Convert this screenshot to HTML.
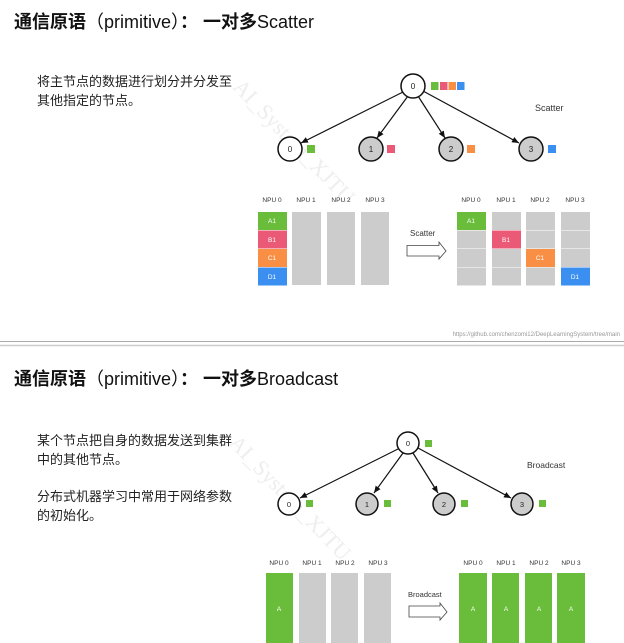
<!DOCTYPE html>
<html><head><meta charset="utf-8"><style>
html,body{margin:0;padding:0;background:#fff;}
body{width:624px;height:643px;overflow:hidden;position:relative;font-family:"Liberation Sans","Noto Sans CJK SC",sans-serif;}
.t{position:absolute;white-space:nowrap;color:#111;}
.title{font-size:18px;font-weight:bold;left:14px;}
.title span{font-weight:normal;}
.p{font-size:13px;left:37px;color:#222;}
</style></head><body>
<svg width="624" height="643" style="position:absolute;left:0;top:0" font-family="Liberation Sans, sans-serif">
<defs><marker id="a" markerWidth="8" markerHeight="8" refX="7" refY="4" orient="auto" markerUnits="userSpaceOnUse"><path d="M0,1 L7,4 L0,7 z" fill="#111"/></marker></defs>
<g font-family="Liberation Serif, serif" font-size="22" fill="#eeeeee">
<text transform="translate(232,88) rotate(46)">AI_System_XJTU</text>
<text transform="translate(228,444) rotate(46)">AI_System_XJTU</text>
</g>
<g stroke="#111" stroke-width="1.2" marker-end="url(#a)">
<line x1="403" y1="92" x2="301" y2="143"/>
<line x1="408" y1="96" x2="377" y2="138"/>
<line x1="418" y1="96" x2="445" y2="138"/>
<line x1="423" y1="91" x2="519" y2="143"/>
</g>
<g stroke="#111" stroke-width="1.5">
<circle cx="413" cy="86" r="12" fill="#fff"/>
<circle cx="290" cy="149" r="12" fill="#fff"/>
<circle cx="371" cy="149" r="12" fill="#ccc"/>
<circle cx="451" cy="149" r="12" fill="#ccc"/>
<circle cx="531" cy="149" r="12" fill="#ccc"/>
</g>
<g font-size="8" text-anchor="middle" fill="#222">
<text x="413" y="89">0</text><text x="290" y="152">0</text><text x="371" y="152">1</text><text x="451" y="152">2</text><text x="531" y="152">3</text>
</g>
<rect x="431" y="82" width="7.5" height="8" fill="#6abd3a"/><rect x="440" y="82" width="7.5" height="8" fill="#ea5a76"/><rect x="448.5" y="82" width="7.5" height="8" fill="#f98f45"/><rect x="457" y="82" width="7.5" height="8" fill="#3b8ff0"/>
<rect x="307" y="145" width="8" height="8" fill="#6abd3a"/><rect x="387" y="145" width="8" height="8" fill="#ea5a76"/><rect x="467" y="145" width="8" height="8" fill="#f98f45"/><rect x="548" y="145" width="8" height="8" fill="#3b8ff0"/>
<text x="535" y="111" font-size="9" fill="#333">Scatter</text>
<g font-size="6.5" fill="#333" text-anchor="middle">
<text x="272" y="202">NPU 0</text><text x="306" y="202">NPU 1</text><text x="341" y="202">NPU 2</text><text x="375" y="202">NPU 3</text>
<text x="471" y="202">NPU 0</text><text x="506" y="202">NPU 1</text><text x="540" y="202">NPU 2</text><text x="575" y="202">NPU 3</text>
</g>
<rect x="258" y="212" width="29" height="18" fill="#6abd3a"/>
<rect x="258" y="230.5" width="29" height="18" fill="#ea5a76"/>
<rect x="258" y="249" width="29" height="18" fill="#f98f45"/>
<rect x="258" y="267.5" width="29" height="18" fill="#3b8ff0"/>
<rect x="292" y="212" width="29" height="73" fill="#ccc"/>
<rect x="327" y="212" width="28" height="73" fill="#ccc"/>
<rect x="361" y="212" width="28" height="73" fill="#ccc"/>
<g fill="#ccc">
<rect x="457" y="230.5" width="29" height="18"/><rect x="457" y="249" width="29" height="18"/><rect x="457" y="267.5" width="29" height="18"/>
<rect x="492" y="212" width="29" height="18"/><rect x="492" y="249" width="29" height="18"/><rect x="492" y="267.5" width="29" height="18"/>
<rect x="526" y="212" width="29" height="18"/><rect x="526" y="230.5" width="29" height="18"/><rect x="526" y="267.5" width="29" height="18"/>
<rect x="561" y="212" width="29" height="18"/><rect x="561" y="230.5" width="29" height="18"/><rect x="561" y="249" width="29" height="18"/>
</g>
<rect x="457" y="212" width="29" height="18" fill="#6abd3a"/>
<rect x="492" y="230.5" width="29" height="18" fill="#ea5a76"/>
<rect x="526" y="249" width="29" height="18" fill="#f98f45"/>
<rect x="561" y="267.5" width="29" height="18" fill="#3b8ff0"/>
<g font-size="6.5" fill="#fff" text-anchor="middle">
<text x="272" y="223">A1</text><text x="272" y="242">B1</text><text x="272" y="260">C1</text><text x="272" y="279">D1</text>
<text x="471" y="223">A1</text><text x="506" y="242">B1</text><text x="540" y="260">C1</text><text x="575" y="279">D1</text>
</g>
<text x="410" y="236" font-size="8" fill="#333">Scatter</text>
<path d="M407,245.5 H439 V242 L446,251 L439,259 V256 H407 Z" fill="#fff" stroke="#444" stroke-width="0.8"/>
<text x="620" y="336" font-size="6" fill="#999" text-anchor="end">https://github.com/chenzomi12/DeepLearningSystem/tree/main</text>
<line x1="0" y1="341.5" x2="624" y2="341.5" stroke="#aaa" stroke-width="1"/>
<line x1="0" y1="345.5" x2="624" y2="345.5" stroke="#ccc" stroke-width="1.5"/>
<g stroke="#111" stroke-width="1.2" marker-end="url(#a)">
<line x1="398" y1="449" x2="300" y2="498"/>
<line x1="403" y1="453" x2="374" y2="493"/>
<line x1="413" y1="453" x2="438" y2="493"/>
<line x1="418" y1="448" x2="511" y2="498"/>
</g>
<g stroke="#111" stroke-width="1.5">
<circle cx="408" cy="443" r="11" fill="#fff"/>
<circle cx="289" cy="504" r="11" fill="#fff"/>
<circle cx="367" cy="504" r="11" fill="#ccc"/>
<circle cx="444" cy="504" r="11" fill="#ccc"/>
<circle cx="522" cy="504" r="11" fill="#ccc"/>
</g>
<g font-size="7.5" text-anchor="middle" fill="#222">
<text x="408" y="446">0</text><text x="289" y="507">0</text><text x="367" y="507">1</text><text x="444" y="507">2</text><text x="522" y="507">3</text>
</g>
<g fill="#6abd3a">
<rect x="425" y="440" width="7" height="7"/><rect x="306" y="500" width="7" height="7"/><rect x="384" y="500" width="7" height="7"/><rect x="461" y="500" width="7" height="7"/><rect x="539" y="500" width="7" height="7"/>
</g>
<text x="527" y="468" font-size="8.5" fill="#333">Broadcast</text>
<g font-size="6.5" fill="#333" text-anchor="middle">
<text x="279" y="565">NPU 0</text><text x="312" y="565">NPU 1</text><text x="345" y="565">NPU 2</text><text x="378" y="565">NPU 3</text>
<text x="473" y="565">NPU 0</text><text x="506" y="565">NPU 1</text><text x="539" y="565">NPU 2</text><text x="571" y="565">NPU 3</text>
</g>
<rect x="266" y="573" width="27" height="70" fill="#6abd3a"/>
<rect x="299" y="573" width="27" height="70" fill="#ccc"/>
<rect x="331" y="573" width="27" height="70" fill="#ccc"/>
<rect x="364" y="573" width="27" height="70" fill="#ccc"/>
<rect x="459" y="573" width="28" height="70" fill="#6abd3a"/>
<rect x="492" y="573" width="27" height="70" fill="#6abd3a"/>
<rect x="525" y="573" width="27" height="70" fill="#6abd3a"/>
<rect x="557" y="573" width="28" height="70" fill="#6abd3a"/>
<g font-size="6.5" fill="#fff" text-anchor="middle">
<text x="279" y="611">A</text><text x="473" y="611">A</text><text x="506" y="611">A</text><text x="539" y="611">A</text><text x="571" y="611">A</text>
</g>
<text x="408" y="597" font-size="7.5" fill="#333">Broadcast</text>
<path d="M409,606 H440 V603 L447,612 L440,620 V617 H409 Z" fill="#fff" stroke="#444" stroke-width="0.8"/>
</svg>
<div class="t title" style="top:8px">通信原语<span>（primitive）</span>： 一对多<span>Scatter</span></div>
<div class="t p" style="top:71px">将主节点的数据进行划分并分发至</div>
<div class="t p" style="top:90px">其他指定的节点。</div>
<div class="t title" style="top:365px">通信原语<span>（primitive）</span>： 一对多<span>Broadcast</span></div>
<div class="t p" style="top:430px">某个节点把自身的数据发送到集群</div>
<div class="t p" style="top:449px">中的其他节点。</div>
<div class="t p" style="top:486px">分布式机器学习中常用于网络参数</div>
<div class="t p" style="top:505px">的初始化。</div>
</body></html>
